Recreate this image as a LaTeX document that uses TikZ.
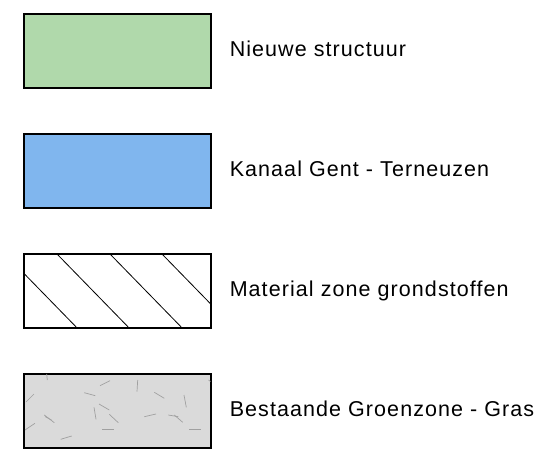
\documentclass[tikz,border=0pt]{standalone}
\usepackage{fontspec}
\setmainfont{Liberation Sans}[LetterSpace=5]
\usetikzlibrary{positioning}

\definecolor{nieuwgreen}{HTML}{B0D9AB}
\definecolor{kanaalblue}{HTML}{80B6EE}
\definecolor{grasgrey}{HTML}{DADADA}
\definecolor{sprietgrey}{HTML}{A0A0A0}

\tikzset{
  legendbox/.style={draw, line width=1.1pt, minimum width=187pt, minimum height=74pt, inner sep=0pt},
  legendtext/.style={font=\fontsize{21.5}{24}\selectfont, inner sep=0pt, text height=15.4pt, text depth=0pt, yshift=2pt},
  hatchline/.style={line width=0.8pt},
  spriet/.style={draw=sprietgrey, line width=0.7pt},
}

\begin{document}
\begin{tikzpicture}
    \useasboundingbox (0,0) rectangle (557pt,-462pt);

    \node (nieuw) [legendbox, fill=nieuwgreen] at (117.5pt,-51pt) {};
    \node (kanaal) [legendbox, fill=kanaalblue, below = 44.9pt of nieuw] {};
    \node (zone) [legendbox, below = 44.9pt of kanaal] {};
    \node (gras) [legendbox, fill=grasgrey, below = 44.9pt of zone] {};

    \node (nieuwtext) [legendtext, right = 18pt of nieuw] {Nieuwe structuur};
    \node (kanaaltext) [legendtext, right = 18pt of kanaal] {Kanaal Gent - Terneuzen};
    \node (zonetext) [legendtext, right = 18pt of zone] {Material zone grondstoffen};
    \node (grastext) [legendtext, right = 18pt of gras] {Bestaande Groenzone - Gras};

    % hatching of the material zone
    \begin{scope}
      \clip (zone.south west) rectangle (zone.north east);
      \foreach \x in {-73,-19,33,86,138}
        \draw [hatchline] ([xshift=\x pt]zone.north west) -- ++(78pt,-80pt);
    \end{scope}
    \draw [line width=1.1pt] (zone.south west) rectangle (zone.north east);

    % grass strokes
    \foreach \xa/\ya/\xb/\yb in {46.7/374/47.3/380, 100/385.7/110/380.7, 26/402/34/394,
        84.3/392.7/95.3/395.7, 99/404/109.3/410, 94/407.3/96/419.3, 44.3/415/54.3/422.7,
        45/416.5/51.5/420, 109.3/414.3/118.3/422.7, 25/430/35/423.3, 102/429.3/114/429.3,
        60.7/439.3/71.7/436, 137.7/380/137/391.7, 154.3/392.3/164.3/398.3,
        184/395/186.3/407.3, 144.3/416.7/156/414, 168.3/415/178.3/416.7,
        174.3/415/182.7/422.3, 189/429.3/201/429.3, 208.5/380/210.5/381.5}
      \draw [spriet] (\xa pt,-\ya pt) -- (\xb pt,-\yb pt);
\end{tikzpicture}
\end{document}
